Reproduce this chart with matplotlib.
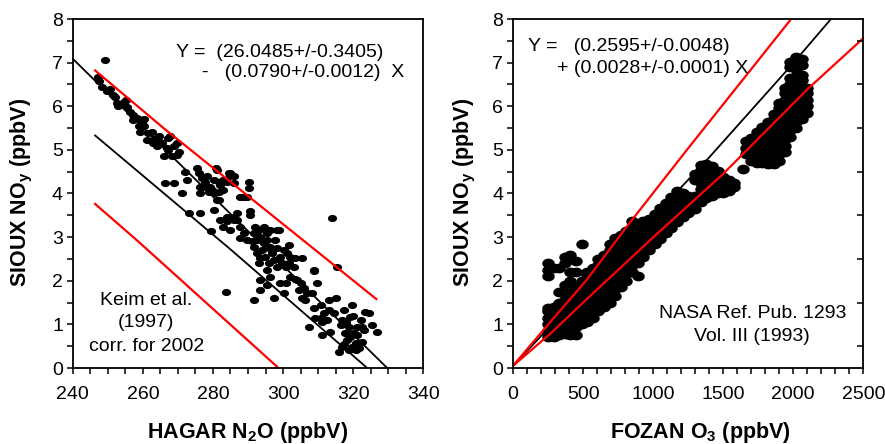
import numpy as np
import matplotlib
matplotlib.use("Agg")
import matplotlib.pyplot as plt
from matplotlib.path import Path
from matplotlib.ticker import MultipleLocator

plt.rcParams['font.family'] = ['Liberation Sans', 'DejaVu Sans']
plt.rcParams['mathtext.fontset'] = 'custom'
plt.rcParams['mathtext.rm'] = 'Liberation Sans'
plt.rcParams['mathtext.bf'] = 'Liberation Sans:bold'
plt.rcParams['mathtext.it'] = 'Liberation Sans:italic'

# ---------------- Left panel data: HAGAR N2O vs SIOUX NOy ----------------
n2o = [249.2, 247.1, 247.6, 248.3, 249.7, 250.7, 252.1, 253.0, 254.5, 255.2,
       256.4, 257.3, 258.3, 259.0, 259.7, 260.4, 259.2, 261.6, 262.6, 263.3,
       264.5, 265.4, 266.0, 266.9, 267.8, 268.8, 269.7, 270.2, 266.4, 268.8,
       271.1, 272.6, 272.1, 273.3, 276.2, 276.4, 275.4, 275.9, 276.9, 277.8,
       278.3, 279.2, 280.2, 281.1, 281.6, 282.1, 283.0, 284.5, 284.9, 285.9,
       281.1, 280.2, 282.1, 283.0, 284.0, 284.9, 285.9, 286.9, 287.8, 287.6,
       279.4, 283.8, 289.7, 290.2, 290.2, 290.5, 290.7, 288.8, 291.6, 292.6,
       293.0, 293.5, 294.5, 295.4, 296.4, 296.9, 297.8, 298.3, 298.8, 299.2,
       300.2, 301.1, 301.6, 294.0, 294.9, 295.9, 293.0, 293.5, 293.5, 291.6,
       295.4, 297.3, 299.2, 300.2, 300.7, 301.6, 303.0, 303.5, 302.1, 304.0,
       305.0, 304.5, 305.9, 306.9, 306.4, 305.4, 308.3, 308.8, 309.7, 307.3,
       308.8, 310.7, 310.7, 311.6, 311.1, 312.6, 313.0, 313.5, 314.0, 314.5,
       315.0, 315.4, 315.9, 316.4, 316.9, 317.3, 317.8, 318.3, 318.8, 319.2,
       319.7, 319.7, 320.2, 320.7, 321.1, 321.6, 322.1, 322.6, 323.0, 323.5,
       324.5, 325.4, 326.9, 316.9, 318.8, 320.7,
       295.4, 296.4, 294.5, 292.1, 297.3, 298.3, 299.7, 300.7, 302.1, 295.4,
       296.4, 291.6, 289.7, 291.1, 292.6, 293.5, 288.8, 298.3, 305.4, 308.8,
       257.3, 260.2, 261.1, 263.0, 264.0, 264.9, 267.3, 268.3, 269.7, 267.3,
       255.4, 252.6, 251.6,
       276.4, 277.3, 278.8, 279.7, 280.6, 281.6, 283.0, 284.0, 284.9, 285.9,
       287.8, 281.0, 281.6, 284.0, 285.9, 286.9,
       318.0, 319.0, 320.0, 321.0, 317.5, 322.5, 313.0, 311.0, 309.0, 303.5]
noy = [7.05, 6.67, 6.57, 6.44, 6.36, 6.39, 6.22, 6.01, 6.10, 6.15,
       5.86, 5.80, 5.73, 5.54, 5.61, 5.71, 5.42, 5.38, 5.42, 5.24,
       5.31, 5.15, 4.85, 5.04, 5.31, 5.08, 4.89, 4.96, 4.24, 4.24,
       4.02, 4.31, 4.50, 3.55, 3.56, 4.00, 4.58, 4.46, 4.35, 4.27,
       4.39, 4.16, 4.31, 4.54, 4.04, 4.20, 4.08, 4.46, 4.39, 4.24,
       3.85, 3.62, 3.39, 3.24, 3.36, 3.17, 3.47, 3.39, 3.24, 2.97,
       3.13, 1.75, 3.93, 4.27, 4.12, 3.60, 3.51, 3.93, 3.09, 2.94,
       3.17, 3.01, 2.86, 3.09, 2.78, 2.63, 2.94, 2.74, 3.17, 2.55,
       2.71, 2.63, 2.82, 2.71, 2.55, 2.40, 2.40, 2.02, 1.79, 1.56,
       1.90, 1.60, 1.94, 1.71, 1.94, 2.40, 2.32, 2.52, 2.09, 2.02,
       1.94, 1.79, 1.83, 1.71, 1.56, 1.60, 1.71, 2.25, 1.94, 0.95,
       1.37, 1.44, 1.14, 1.25, 0.76, 1.10, 1.33, 0.83, 3.43, 1.25,
       1.60, 2.32, 0.37, 0.99, 1.10, 1.33, 0.80, 0.64, 0.95, 1.18,
       1.44, 0.49, 0.80, 0.57, 0.95, 0.45, 1.10, 0.60, 0.87, 1.29,
       1.25, 0.99, 0.83, 0.49, 0.41, 0.41,
       2.94, 3.17, 3.24, 3.24, 2.48, 2.32, 2.40, 2.32, 2.55, 2.25,
       2.09, 2.78, 2.94, 2.90, 2.63, 2.52, 3.09, 3.17, 2.52, 2.23,
       5.69, 5.54, 5.23, 5.15, 5.08, 5.19, 5.00, 4.85, 5.15, 5.27,
       5.99, 6.07, 6.26,
       4.16, 4.16, 4.04, 4.08, 4.00, 4.27, 4.31, 4.27, 4.46, 4.39,
       3.93, 4.58, 3.85, 3.47, 3.39, 3.55,
       1.05, 0.70, 1.20, 0.75, 0.55, 0.95, 1.55, 1.05, 1.15, 2.05]

# regression line and reference correlations (left)
fit_left_x = [240.0, 329.7]
fit_left_y = [7.09, 0.0]
keim_x = [246.4, 285.0, 324.0]
keim_y = [5.33, 2.72, 0.0]
red_up_x = [246.4, 265.9, 326.6]
red_up_y = [6.82, 5.50, 1.58]
red_lo_x = [246.4, 258.0, 298.7]
red_lo_y = [3.76, 2.95, 0.0]

# ---------------- Right panel data: FOZAN O3 vs SIOUX NOy ----------------
o3_cols = [250, 290, 330, 370, 410, 450, 490, 530, 570, 610, 650, 690, 730,
           770, 810, 850, 890, 930, 970, 1010, 1050, 1090, 1130, 1170, 1210,
           1250, 1300, 1340, 1380, 1420, 1460, 1500, 1540, 1580, 1640, 1660,
           1700, 1740, 1780, 1820, 1860, 1900, 1940, 1980, 2020, 2060, 2100]
noy_cols = [
    [0.7, 0.85, 1.0, 1.15, 1.3, 1.38, 2.1, 2.25, 2.4],
    [0.72, 0.85, 1.0, 1.15, 1.3, 1.4, 2.3],
    [0.75, 0.9, 1.05, 1.2, 1.35, 1.5, 1.75, 2.3],
    [0.78, 0.95, 1.1, 1.25, 1.4, 1.55, 1.7, 1.9, 2.4, 2.55],
    [0.75, 0.9, 1.05, 1.2, 1.35, 1.5, 1.65, 1.8, 2.0, 2.2, 2.6],
    [0.75, 0.95, 1.1, 1.25, 1.4, 1.55, 1.7, 1.85, 2.2, 2.45],
    [1.0, 1.15, 1.3, 1.45, 1.6, 1.75, 1.9, 2.0, 2.85],
    [1.05, 1.2, 1.35, 1.5, 1.65, 1.8, 1.95, 2.1, 2.2],
    [1.15, 1.3, 1.45, 1.6, 1.75, 1.9, 2.05, 2.2, 2.3],
    [1.3, 1.45, 1.6, 1.75, 1.9, 2.05, 2.2, 2.35, 2.5],
    [1.4, 1.55, 1.7, 1.85, 2.0, 2.15, 2.3, 2.45, 2.6],
    [1.5, 1.65, 1.8, 1.95, 2.1, 2.25, 2.4, 2.55, 2.7, 2.85],
    [1.65, 1.8, 1.95, 2.1, 2.25, 2.4, 2.55, 2.7, 2.85, 2.98],
    [1.85, 2.0, 2.15, 2.3, 2.45, 2.6, 2.75, 2.9, 3.05],
    [2.0, 2.15, 2.3, 2.45, 2.6, 2.75, 2.9, 3.05, 3.15],
    [2.2, 2.35, 2.5, 2.65, 2.8, 2.95, 3.1, 3.22, 3.36],
    [2.12, 2.4, 2.55, 2.7, 2.85, 3.0, 3.15, 3.28],
    [2.55, 2.7, 2.85, 3.0, 3.15, 3.3, 3.38],
    [2.7, 2.85, 3.0, 3.15, 3.3, 3.42],
    [2.85, 3.0, 3.15, 3.3, 3.45, 3.52],
    [2.95, 3.1, 3.25, 3.4, 3.55, 3.66],
    [3.1, 3.25, 3.4, 3.55, 3.7, 3.78],
    [3.2, 3.35, 3.5, 3.65, 3.8, 3.92],
    [3.35, 3.5, 3.65, 3.8, 3.95, 4.05],
    [3.45, 3.6, 3.75, 3.9, 4.02],
    [3.55, 3.7, 3.85, 3.95],
    [3.65, 3.8, 3.95, 4.3, 4.45],
    [3.8, 3.95, 4.1, 4.25, 4.4, 4.55, 4.65],
    [3.9, 4.05, 4.2, 4.35, 4.5, 4.62, 4.68],
    [3.95, 4.1, 4.25, 4.4, 4.52, 4.62],
    [4.0, 4.15, 4.3, 4.45, 4.52],
    [4.0, 4.15, 4.3, 4.38],
    [4.05, 4.2, 4.3],
    [4.15, 4.25],
    [4.57],
    [4.9, 5.05, 5.2],
    [4.75, 4.9, 5.05, 5.2, 5.28],
    [4.7, 4.85, 5.0, 5.15, 5.3, 5.4],
    [4.7, 4.85, 5.0, 5.15, 5.3, 5.42, 5.52],
    [4.68, 4.8, 4.95, 5.1, 5.25, 5.4, 5.55, 5.65],
    [4.68, 4.8, 4.95, 5.1, 5.25, 5.4, 5.55, 5.7, 5.82],
    [4.75, 4.9, 5.05, 5.2, 5.35, 5.5, 5.65, 5.8, 5.95, 6.08],
    [4.95, 5.1, 5.25, 5.4, 5.55, 5.7, 5.85, 6.0, 6.15, 6.3, 6.42],
    [5.3, 5.45, 5.6, 5.75, 5.9, 6.05, 6.2, 6.35, 6.5, 6.65, 6.9, 7.02],
    [5.5, 5.65, 5.8, 5.95, 6.1, 6.25, 6.4, 6.55, 6.7, 6.85, 7.0, 7.12],
    [5.7, 5.85, 6.0, 6.15, 6.3, 6.45, 6.6, 6.72, 6.95, 7.08],
    [5.85, 6.0, 6.15, 6.3, 6.42],
]

fit_right_x = [0, 1026, 1384, 1979, 2264]
fit_right_y = [0.05, 3.55, 4.77, 6.91, 7.98]
rred_up_x = [0, 217, 526, 812, 1241, 1990]
rred_up_y = [0.05, 0.87, 2.02, 3.24, 5.00, 8.02]
rred_lo_x = [0, 264, 500, 1002, 1500, 2098, 2500]
rred_lo_y = [0.05, 0.78, 1.50, 3.00, 4.45, 6.38, 7.56]

# ---------------- drawing ----------------
RED = '#ff0000'
theta = np.linspace(0, 2 * np.pi, 41)
ellipse = Path(np.column_stack([np.cos(theta), 0.78 * np.sin(theta)]), closed=True)
FS = 14

fig = plt.figure(figsize=(8.85, 4.44), dpi=100)
ax1 = fig.add_axes([72.7 / 885, 76 / 444, 350.6 / 885, 349 / 444])
ax2 = fig.add_axes([513 / 885, 76 / 444, 350.3 / 885, 349 / 444])

def style(ax, xlim, xmaj, xmin):
    ax.set_ylim(0, 8)
    ax.set_xlim(*xlim)
    ax.xaxis.set_major_locator(MultipleLocator(xmaj))
    ax.xaxis.set_minor_locator(MultipleLocator(xmin))
    ax.yaxis.set_major_locator(MultipleLocator(1))
    ax.yaxis.set_minor_locator(MultipleLocator(0.5))
    ax.tick_params(which='both', direction='out', length=4, width=1.1,
                   top=False, right=False)
    ax.tick_params(axis='x', labelsize=14, pad=9)
    ax.tick_params(axis='y', labelsize=14, pad=3)
    for s in ax.spines.values():
        s.set_linewidth(1.3)

style(ax1, (240, 340), 20, 5)
style(ax2, (0, 2500), 500, 100)

# Left
ax1.plot(n2o, noy, linestyle='none', marker=ellipse, markersize=6.6,
         color='black', markeredgewidth=0)
ax1.plot(fit_left_x, fit_left_y, color='black', lw=1.3)
ax1.plot(keim_x, keim_y, color='black', lw=1.3)
ax1.plot(red_up_x, red_up_y, color=RED, lw=1.6)
ax1.plot(red_lo_x, red_lo_y, color=RED, lw=1.6)

ax1.text(0.295, 0.903, 'Y =  (26.0485+/-0.3405)', transform=ax1.transAxes,
         fontsize=FS, ha='left', va='center')
ax1.text(0.369, 0.848, '-   (0.0790+/-0.0012)  X', transform=ax1.transAxes,
         fontsize=FS, ha='left', va='center')
for t, yy in [('Keim et al.', 0.192), ('(1997)', 0.129), ('corr. for 2002', 0.063)]:
    ax1.text(0.21, yy, t, transform=ax1.transAxes, fontsize=FS,
             ha='center', va='center')

# Right
o3 = []
noy_r = []
for xc, ys in zip(o3_cols, noy_cols):
    for yv in ys:
        o3.append(xc)
        noy_r.append(yv)
ax2.plot(o3, noy_r, linestyle='none', marker=ellipse, markersize=9,
         color='black', markeredgewidth=0)
ax2.plot(fit_right_x, fit_right_y, color='black', lw=1.3)
ax2.plot(rred_up_x, rred_up_y, color=RED, lw=1.6)
ax2.plot(rred_lo_x, rred_lo_y, color=RED, lw=1.6)

# inward ticks on the right spine at half-integer values
ax2r = ax2.twinx()
ax2r.set_ylim(0, 8)
ax2r.set_yticks([0.5, 1.5, 2.5, 3.5, 4.5, 5.5, 6.5, 7.5])
ax2r.tick_params(direction='in', length=4, width=1.1, labelright=False)
ax2r.yaxis.set_minor_locator(plt.NullLocator())
for s in ax2r.spines.values():
    s.set_visible(False)

ax2.text(0.043, 0.92, 'Y =   (0.2595+/-0.0048)', transform=ax2.transAxes,
         fontsize=FS, ha='left', va='center')
ax2.text(0.126, 0.857, '+ (0.0028+/-0.0001) X', transform=ax2.transAxes,
         fontsize=FS, ha='left', va='center')
ax2.text(0.685, 0.155, 'NASA Ref. Pub. 1293', transform=ax2.transAxes,
         fontsize=FS, ha='center', va='center')
ax2.text(0.682, 0.089, 'Vol. III (1993)', transform=ax2.transAxes,
         fontsize=FS, ha='center', va='center')

# axis labels
LFS = 15.5
fig.text(248 / 885, 1 - 432 / 444, r'HAGAR N$_\mathbf{2}$O (ppbV)', fontsize=LFS,
         fontweight='bold', ha='center', va='center')
fig.text(700 / 885, 1 - 432 / 444, r'FOZAN O$_\mathbf{3}$ (ppbV)', fontsize=LFS,
         fontweight='bold', ha='center', va='center')
fig.text(22 / 885, 1 - 192 / 444, r'SIOUX NO$_\mathbf{y}$ (ppbV)', fontsize=LFS,
         fontweight='bold', ha='center', va='center', rotation=90)
fig.text(465 / 885, 1 - 192 / 444, r'SIOUX NO$_\mathbf{y}$ (ppbV)', fontsize=LFS,
         fontweight='bold', ha='center', va='center', rotation=90)

fig.savefig('out.png', dpi=100)
